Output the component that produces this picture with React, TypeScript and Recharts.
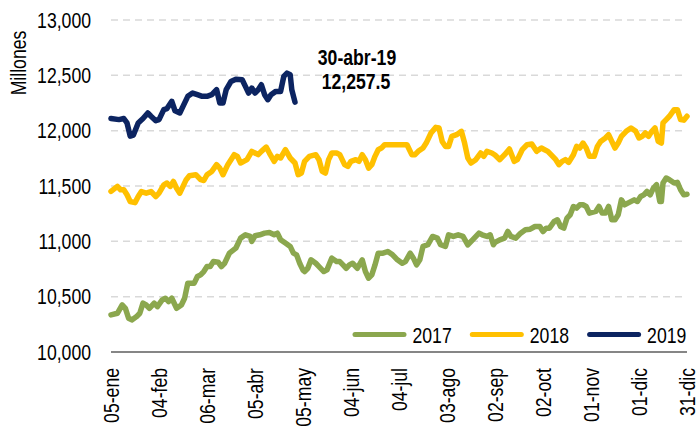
import React from "react";
import {
  LineChart,
  Line,
  XAxis,
  YAxis,
  CartesianGrid,
  ReferenceDot,
} from "recharts";

// x tick labels, one every 30 days starting at 05-ene (day 0)
const xTickLabels = [
  "05-ene", "04-feb", "06-mar", "05-abr", "05-may", "04-jun", "04-jul",
  "03-ago", "02-sep", "02-oct", "01-nov", "01-dic", "31-dic",
];
const yTicks = [10000, 10500, 11000, 11500, 12000, 12500, 13000];

// [day offset from 05-ene, value in millones]
const s2017: [number, number][] = [
  [0,10335],[4,10350],[7,10425],[9,10395],[11,10305],[13,10290],[16,10320],[18,10350],[20,10441],[22,10425],
  [24,10395],[27,10441],[29,10410],[32,10471],[34,10486],[36,10456],[38,10486],[41,10395],[44,10425],[46,10486],
  [48,10622],[52,10622],[54,10682],[56,10697],[58,10727],[60,10772],[62,10772],[64,10817],[67,10811],[69,10772],
  [71,10802],[74,10893],[78,10938],[81,11029],[84,11059],[87,11044],[88,11000],[90,11050],[93,11059],[96,11074],
  [99,11080],[102,11059],[104,11074],[106,11014],[109,10984],[112,10954],[114,10893],[116,10878],[118,10800],[120,10740],
  [121,10727],[123,10757],[125,10833],[128,10802],[130,10772],[133,10727],[135,10742],[138,10848],[141,10817],[143,10817],
  [145,10787],[147,10757],[149,10787],[151,10802],[154,10757],[157,10833],[159,10727],[161,10667],[163,10697],[165,10787],
  [167,10893],[170,10893],[173,10908],[176,10878],[179,10833],[182,10802],[184,10817],[187,10893],[189,10848],[191,10787],
  [193,10833],[195,10954],[198,10969],[201,11044],[204,11029],[206,10969],[209,10954],[211,11059],[214,11044],[217,11059],
  [220,11044],[223,10969],[226,11014],[230,11074],[232,11059],[235,11044],[237,11059],[239,10969],[240,10990],[243,11014],
  [246,11029],[248,11089],[250,11044],[253,11029],[256,11074],[259,11104],[262,11110],[265,11134],[268,11134],[270,11089],
  [272,11119],[274,11119],[277,11180],[279,11195],[281,11134],[283,11119],[285,11210],[287,11240],[289,11315],[291,11300],
  [293,11330],[295,11330],[297,11315],[299,11255],[303,11270],[305,11315],[307,11255],[309,11255],[311,11315],[313,11195],
  [315,11195],[317,11240],[319,11375],[321,11330],[323,11345],[327,11375],[329,11360],[331,11405],[333,11420],[335,11451],
  [337,11420],[339,11481],[341,11511],[343,11360],[344,11360],[345,11527],[347,11572],[349,11557],[352,11527],[354,11533],
  [356,11466],[358,11420],[360,11426],
];

const s2018: [number, number][] = [
  [0,11451],[4,11496],[6,11466],[8,11466],[10,11421],[12,11360],[15,11350],[17,11405],[19,11450],[22,11435],
  [25,11450],[28,11405],[30,11435],[33,11511],[35,11527],[37,11496],[39,11541],[41,11480],[43,11435],[45,11496],
  [47,11557],[49,11593],[53,11602],[56,11557],[58,11550],[60,11602],[63,11632],[66,11693],[68,11662],[70,11602],
  [73,11693],[77,11783],[79,11768],[81,11708],[83,11723],[85,11738],[88,11813],[90,11798],[92,11783],[94,11813],
  [97,11852],[99,11798],[102,11723],[104,11768],[106,11753],[109,11828],[112,11753],[115,11708],[117,11602],[119,11617],
  [121,11723],[124,11768],[128,11783],[130,11738],[132,11632],[134,11617],[136,11738],[138,11798],[141,11798],[143,11783],
  [146,11693],[148,11677],[150,11723],[153,11738],[155,11723],[157,11783],[159,11738],[161,11662],[163,11693],[165,11768],
  [167,11828],[169,11843],[171,11873],[174,11873],[178,11873],[181,11873],[185,11873],[188,11783],[190,11783],[192,11813],
  [195,11843],[197,11888],[200,11979],[203,12030],[205,12024],[207,11903],[209,11858],[211,11858],[213,11948],[216,11964],
  [219,11994],[221,11888],[223,11753],[225,11708],[228,11738],[231,11798],[233,11768],[235,11813],[238,11798],[240,11780],
  [243,11738],[246,11783],[249,11834],[252,11723],[254,11738],[257,11828],[260,11873],[263,11879],[266,11813],[269,11843],
  [271,11828],[273,11813],[275,11783],[278,11738],[280,11693],[282,11723],[284,11738],[286,11713],[289,11783],[291,11858],
  [293,11843],[295,11888],[297,11843],[299,11768],[302,11768],[304,11858],[306,11903],[309,11934],[311,11964],[313,11903],
  [315,11843],[317,11888],[319,11949],[322,11994],[325,12024],[328,11994],[330,11934],[332,11949],[334,11979],[336,11949],
  [338,11994],[340,12024],[342,11903],[344,11888],[345,12070],[347,12100],[349,12130],[352,12190],[354,12190],[356,12100],
  [358,12095],[360,12130],
];

const s2019: [number, number][] = [
  [0,12110],[5,12100],[8,12110],[10,12070],[12,11950],[14,11960],[17,12070],[20,12110],[23,12160],[25,12130],
  [28,12090],[30,12100],[33,12190],[35,12200],[38,12265],[40,12180],[43,12160],[45,12220],[48,12310],[51,12340],
  [54,12325],[57,12310],[60,12310],[63,12325],[66,12370],[68,12250],[70,12250],[72,12370],[75,12445],[78,12465],
  [82,12460],[84,12400],[86,12340],[88,12385],[90,12340],[92,12370],[94,12415],[96,12325],[98,12280],[100,12325],
  [103,12355],[106,12355],[108,12490],[110,12520],[112,12505],[113,12370],[115,12257.5],
];

const lastLabelDate = "30-abr-19";
const lastDay = 115;
const lastValue = 12257.5;

const series = [
  { key: "y2017", name: "2017", color: "#8BA74E", points: s2017 },
  { key: "y2018", name: "2018", color: "#FFC000", points: s2018 },
  { key: "y2019", name: "2019", color: "#0C2461", points: s2019 },
];

// merge into one table keyed by day
const rowsMap = new Map<number, any>();
series.forEach((s) => {
  s.points.forEach(([d, v]) => {
    if (!rowsMap.has(d)) rowsMap.set(d, { day: d });
    rowsMap.get(d)[s.key] = v;
  });
});
const data = Array.from(rowsMap.values()).sort((a, b) => a.day - b.day);
const xTicks = xTickLabels.map((_, i) => i * 30);

const FONT = "'Liberation Sans', Arial, sans-serif";
const NARROW = 0.82;
const fmt = (v: number) => v.toLocaleString("en-US");

// narrow (condensed) text: Liberation Sans squeezed horizontally like Arial Narrow
const NText = ({ x, y, anchor = "start", rotate = 0, bold = false, size = 21, dy, children }: any) => (
  <text
    transform={`translate(${x} ${y}) rotate(${rotate}) scale(${NARROW} 1)`}
    x={0}
    y={0}
    dy={dy}
    textAnchor={anchor}
    fontFamily={FONT}
    fontSize={size}
    fontWeight={bold ? "bold" : "normal"}
    fill="#000"
  >
    {children}
  </text>
);

const XTick = (props: any) => {
  const { x, y, payload } = props;
  const label = xTickLabels[Math.round(payload.value / 30)] ?? "";
  return (
    <NText x={x} y={y} anchor="end" rotate={-90} dy="0.35em" size={21.5}>
      {label}
    </NText>
  );
};

const YTick = (props: any) => {
  const { x, y, payload } = props;
  return (
    <NText x={x} y={y} anchor="end" dy="0.35em" size={21.5}>
      {fmt(payload.value)}
    </NText>
  );
};

const AnnotationLabel = (props: any) => {
  const vb = props.viewBox || {};
  const cx = (vb.x ?? 0) + (vb.width ?? 0) / 2;
  const cy = (vb.y ?? 0) + (vb.height ?? 0) / 2;
  return (
    <g>
      <NText x={cx + 62} y={cy - 37.5} anchor="middle" bold size={21.5}>
        {lastLabelDate}
      </NText>
      <NText x={cx + 61} y={cy - 13.5} anchor="middle" bold size={21.5}>
        {lastValue.toLocaleString("en-US", { minimumFractionDigits: 1 })}
      </NText>
    </g>
  );
};

export default function App() {
  return (
    <div style={{ position: "absolute", left: 0, top: 0, width: 698, height: 427, background: "#fff" }}>
      <LineChart
        width={698}
        height={427}
        data={data}
        margin={{ top: 20, right: 11, bottom: 0, left: 0 }}
      >
        <CartesianGrid
          horizontal={true}
          vertical={false}
          stroke="#D9D9D9"
          strokeWidth={1.5}
          strokeDasharray="7 5"
        />
        <XAxis
          dataKey="day"
          type="number"
          domain={[0, 360]}
          ticks={xTicks}
          interval={0}
          height={75}
          tickLine={false}
          tickSize={0}
          tickMargin={16}
          axisLine={{ stroke: "#868686", strokeWidth: 2 }}
          tick={<XTick />}
        />
        <YAxis
          type="number"
          domain={[10000, 13000]}
          ticks={yTicks}
          interval={0}
          width={111}
          axisLine={false}
          tickLine={false}
          tickSize={0}
          tickMargin={20}
          tick={<YTick />}
          label={{
            content: (p: any) => {
              const vb = p.viewBox || { x: 0, y: 20 };
              return (
                <NText x={vb.x + 18.5} y={vb.y + 43} anchor="middle" rotate={-90} dy="0.35em" size={21.5}>
                  Millones
                </NText>
              );
            },
          }}
        />
        {series.map((s) => (
          <Line
            key={s.key}
            dataKey={s.key}
            name={s.name}
            type="linear"
            stroke={s.color}
            strokeWidth={5.5}
            strokeLinejoin="round"
            strokeLinecap="round"
            dot={false}
            activeDot={false}
            connectNulls
            isAnimationActive={false}
          />
        ))}
        <ReferenceDot
          x={lastDay}
          y={lastValue}
          r={1}
          fill="none"
          stroke="none"
          label={<AnnotationLabel />}
        />
      </LineChart>
      <svg
        width={698}
        height={427}
        style={{ position: "absolute", left: 0, top: 0, pointerEvents: "none" }}
      >
        {series.map((s, i) => {
          const x0 = 353 + i * 117.3;
          return (
            <g key={s.key}>
              <line x1={x0 + 2} y1={334.5} x2={x0 + 51} y2={334.5} stroke={s.color} strokeWidth={5} strokeLinecap="round" />
              <NText x={x0 + 59.5} y={343} size={21.5}>
                {s.name}
              </NText>
            </g>
          );
        })}
      </svg>
    </div>
  );
}
